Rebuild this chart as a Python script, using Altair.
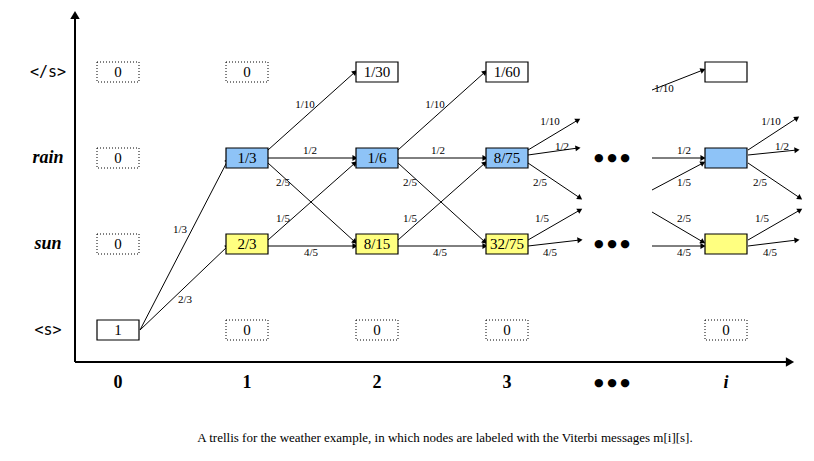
"""Trellis for the weather example (Viterbi messages)."""

import math

import altair as alt
import pandas as pd

SERIF = "Liberation Serif"

# column / row centres, in reference pixel units
col_x = {"0": 118, "1": 247, "2": 377, "3": 507, "i": 726}
row_y = {"</s>": 72, "rain": 158, "sun": 244, "<s>": 330}

# nodes: column, row, label, fill, dotted border
node_col = ["0", "0", "0", "0", "1", "1", "1", "1", "2", "2", "2", "2",
            "3", "3", "3", "3", "i", "i", "i", "i"]
node_row = ["</s>", "rain", "sun", "<s>"] * 5
node_text = ["0", "0", "0", "1", "0", "1/3", "2/3", "0", "1/30", "1/6", "8/15", "0",
             "1/60", "8/75", "32/75", "0", "", "", "", "0"]
node_fill = ["white", "white", "white", "white", "white", "#8ec3f7", "#ffff80", "white",
             "white", "#8ec3f7", "#ffff80", "white", "white", "#8ec3f7", "#ffff80", "white",
             "white", "#8ec3f7", "#ffff80", "white"]
node_dotted = [True, True, True, False, True, False, False, True, False, False, False, True,
               False, False, False, True, False, False, False, True]

# edges: x1, y1, x2, y2, label, label x, label y
edge_x1 = [140, 140, 268, 268, 268, 268, 268, 398, 398, 398, 398, 398,
           528, 528, 528, 528, 528, 652, 652, 652, 652, 652,
           748, 748, 748, 748, 748]
edge_y1 = [330, 330, 150, 158, 163, 240, 246, 150, 158, 163, 240, 246,
           150, 155, 163, 240, 246, 90, 158, 190, 212, 246,
           150, 155, 163, 240, 246]
edge_x2 = [228, 228, 355, 355, 355, 355, 355, 485, 485, 485, 485, 485,
           578, 578, 580, 580, 580, 703, 703, 703, 703, 703,
           797, 797, 800, 800, 797]
edge_y2 = [160, 246, 72, 158, 242, 163, 246, 72, 158, 242, 163, 246,
           120, 148, 198, 210, 240, 70, 158, 163, 242, 246,
           118, 150, 198, 210, 240]
edge_label = ["1/3", "2/3", "1/10", "1/2", "2/5", "1/5", "4/5",
              "1/10", "1/2", "2/5", "1/5", "4/5",
              "1/10", "1/2", "2/5", "1/5", "4/5",
              "1/10", "1/2", "1/5", "2/5", "4/5",
              "1/10", "1/2", "2/5", "1/5", "4/5"]
label_x = [180, 185, 305, 310, 283, 283, 311, 435, 438, 410, 410, 440,
           550, 562, 540, 542, 550, 664, 684, 684, 684, 684,
           771, 782, 760, 762, 770]
label_y = [230, 300, 105, 151, 183, 219, 253, 105, 151, 183, 219, 253,
           122, 147, 183, 219, 253, 89, 151, 183, 219, 253,
           122, 147, 183, 219, 253]

x_ticks = ["0", "1", "2", "3", "i"]
caption = "A trellis for the weather example, in which nodes are labeled with the Viterbi messages m[i][s]."

BOX_W, BOX_H = 42, 20

nodes = pd.DataFrame({
    "x": [col_x[c] for c in node_col],
    "y": [row_y[r] for r in node_row],
    "text": node_text, "fill": node_fill, "dotted": node_dotted,
})
nodes["x1"] = nodes.x - BOX_W / 2
nodes["x2"] = nodes.x + BOX_W / 2
nodes["y1"] = nodes.y - BOX_H / 2
nodes["y2"] = nodes.y + BOX_H / 2

edges = pd.DataFrame({"x1": edge_x1, "y1": edge_y1, "x2": edge_x2, "y2": edge_y2,
                      "label": edge_label, "lx": label_x, "ly": label_y})
# axis arrows
axes = pd.DataFrame({"x1": [75, 75], "y1": [362, 362], "x2": [75, 790], "y2": [15, 362]})


def heads(df):
    ang = [math.degrees(math.atan2(r.x2 - r.x1, -(r.y2 - r.y1))) % 360 for r in df.itertuples()]
    return pd.DataFrame({"x": df.x2.values, "y": df.y2.values, "angle": ang})


XS = alt.Scale(domain=[8, 806])
YS = alt.Scale(domain=[8, 453], reverse=True)
X = alt.X("x:Q", scale=XS, axis=None)
Y = alt.Y("y:Q", scale=YS, axis=None)


def lines(df, width):
    return alt.Chart(df).mark_rule(color="black", strokeWidth=width).encode(
        x=alt.X("x1:Q", scale=XS, axis=None),
        y=alt.Y("y1:Q", scale=YS, axis=None),
        x2="x2:Q", y2="y2:Q")


def arrowheads(df, size):
    return alt.Chart(heads(df)).mark_point(shape="triangle-up", filled=True, color="black",
                                           opacity=1, size=size).encode(
        x=X, y=Y, angle=alt.Angle("angle:Q", scale=None))


edge_lines = lines(edges, 1)
axis_lines = lines(axes, 2)

edge_text = alt.Chart(edges).mark_text(font=SERIF, fontSize=11).encode(
    x=alt.X("lx:Q", scale=XS, axis=None),
    y=alt.Y("ly:Q", scale=YS, axis=None),
    text="label:N")

box_enc = dict(
    x=alt.X("x1:Q", scale=XS, axis=None),
    y=alt.Y("y1:Q", scale=YS, axis=None),
    x2="x2:Q", y2="y2:Q",
    fill=alt.Fill("fill:N", scale=None))
solid_boxes = alt.Chart(nodes[~nodes.dotted]).mark_rect(stroke="black", strokeWidth=1.2).encode(**box_enc)
dotted_boxes = alt.Chart(nodes[nodes.dotted]).mark_rect(
    stroke="black", strokeWidth=1, strokeDash=[1, 2]).encode(**box_enc)
box_text = alt.Chart(nodes).mark_text(font=SERIF, fontSize=15).encode(x=X, y=Y, text="text:N")

row_labels = alt.layer(
    alt.Chart(pd.DataFrame({"x": [48, 48], "y": [row_y["</s>"], row_y["<s>"]], "text": ["</s>", "<s>"]}))
    .mark_text(font="DejaVu Sans Mono", fontSize=15).encode(x=X, y=Y, text="text:N"),
    alt.Chart(pd.DataFrame({"x": [48, 48], "y": [row_y["rain"], row_y["sun"]], "text": ["rain", "sun"]}))
    .mark_text(font=SERIF, fontSize=18, fontStyle="italic", fontWeight="bold").encode(x=X, y=Y, text="text:N"),
)

tick_df = pd.DataFrame({"x": [col_x[t] for t in x_ticks], "y": [383] * 5, "text": x_ticks})
tick_text = alt.layer(
    alt.Chart(tick_df.iloc[:4]).mark_text(font=SERIF, fontSize=18, fontWeight="bold")
    .encode(x=X, y=Y, text="text:N"),
    alt.Chart(tick_df.iloc[4:]).mark_text(font=SERIF, fontSize=18, fontWeight="bold", fontStyle="italic")
    .encode(x=X, y=Y, text="text:N"),
)

dots = alt.Chart(pd.DataFrame({"x": [612] * 3, "y": [158, 244, 383], "text": ["● ● ●"] * 3})).mark_text(
    fontSize=11, font="DejaVu Sans").encode(x=X, y=Y, text="text:N")

cap = alt.Chart(pd.DataFrame({"x": [445], "y": [438], "text": [caption]})).mark_text(
    font=SERIF, fontSize=13).encode(x=X, y=Y, text="text:N")

chart = alt.layer(
    axis_lines, arrowheads(axes, 90), edge_lines, arrowheads(edges, 35),
    solid_boxes, dotted_boxes, box_text, edge_text, row_labels, tick_text, dots, cap,
).properties(width=798, height=445, padding=0, autosize="none").configure_view(stroke=None)

chart.save("out.html", embed_options={"renderer": "svg", "actions": False})
